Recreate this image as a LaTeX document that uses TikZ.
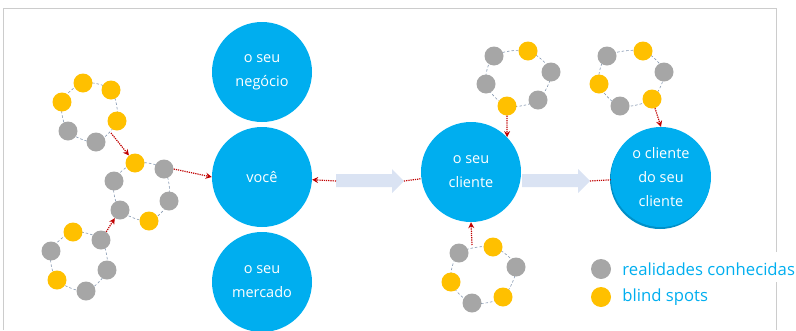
\documentclass[tikz,border=0pt]{standalone}
\usepackage{fontspec}
\setmainfont{Open Sans}
\usetikzlibrary{arrows.meta,positioning}
\definecolor{cblue}{HTML}{00AEEF}
\definecolor{cshadow}{HTML}{0090C8}
\definecolor{dotgray}{HTML}{A6A6A6}
\definecolor{dotyellow}{HTML}{FFC000}
\definecolor{ringline}{HTML}{8497B0}
\definecolor{linkred}{HTML}{C00000}
\definecolor{arrowfill}{HTML}{DAE3F3}
\definecolor{framegray}{HTML}{CCCCCC}

\begin{document}
\begin{tikzpicture}[x=1pt, y=-1pt,
    bigcirc/.style={circle, fill=cblue, text=white, minimum size=100pt, inner sep=0pt, align=center, font=\fontsize{14.5}{24}\selectfont},
    gdot/.style={circle, fill=dotgray, minimum size=19pt, inner sep=0pt},
    ydot/.style={circle, fill=dotyellow, minimum size=19pt, inner sep=0pt},
    ring/.style={draw=ringline, dash pattern=on 2.5pt off 2pt, line width=0.6pt},
    link/.style={draw=linkred, densely dotted, line width=1.2pt, -{Stealth[length=6pt,width=6pt]}},
    linkplain/.style={draw=linkred, densely dotted, line width=1.2pt},
    legtext/.style={text=cblue, inner sep=0pt, font=\fontsize{16.7}{20}\selectfont}]
    \useasboundingbox (0,0) rectangle (796,330);

    % frame, open where the legend sits
    \draw[framegray, line width=0.8pt] (776,252) -- (776,8) -- (3,8) -- (3,330);
    \draw[framegray, line width=0.8pt] (776,282) -- (776,330);

    % main circles
    \node[bigcirc] (negocio) at (262,72) {o seu\\neg\'ocio};
    \node[bigcirc] (voce) at (262,177) {voc\^e};
    \node[bigcirc] (mercado) at (262,282) {o seu\\mercado};
    \node[bigcirc] (cliente) at (471,172) {o seu\\cliente};
    \fill[cshadow] (660,179) circle (50);
    \node[bigcirc] (ccliente) at (661,177) {o cliente\\do seu\\cliente};

    % block arrows
    \coordinate (tailA) at (336,181);
    \coordinate (tipA) at (404,181);
    \fill[arrowfill] (336,174) -- (392,174) -- (392,169) -- (tipA) -- (392,193) -- (392,187) -- (336,187) -- cycle;
    \coordinate (tailB) at (522,181);
    \coordinate (tipB) at (590,181);
    \fill[arrowfill] (522,174) -- (578,174) -- (578,169) -- (tipB) -- (578,193) -- (578,187) -- (522,187) -- cycle;

    % cluster top left
    \draw[ring] plot[smooth cycle] coordinates {(83,83) (111,90) (117,121) (96,142) (68,131) (62,102)};
    \node[ydot] (a1) at (83,83) {};
    \node[ydot] (a2) at (111,90) {};
    \node[ydot] (a3) at (117,121) {};
    \node[gdot] (a4) at (96,142) {};
    \node[gdot] (a5) at (68,131) {};
    \node[ydot] (a6) at (62,102) {};
    \coordinate (aout) at (111,133);

    % cluster middle left
    \draw[ring] plot[smooth cycle] coordinates {(135,163) (164,169) (169,201) (149,221) (120,210) (114,181)};
    \node[ydot] (b1) at (135,163) {};
    \node[gdot] (b2) at (164,169) {};
    \node[gdot] (b3) at (169,201) {};
    \node[ydot] (b4) at (149,221) {};
    \node[gdot] (b5) at (120,210) {};
    \node[gdot] (b6) at (114,181) {};

    % cluster bottom left
    \draw[ring] plot[smooth cycle] coordinates {(73,232) (101,240) (107,270) (86,291) (57,280) (51,251)};
    \node[ydot] (c1) at (73,232) {};
    \node[gdot] (c2) at (101,240) {};
    \node[gdot] (c3) at (107,270) {};
    \node[gdot] (c4) at (86,291) {};
    \node[ydot] (c5) at (57,280) {};
    \node[gdot] (c6) at (51,251) {};

    % cluster above cliente
    \draw[ring] plot[smooth cycle] coordinates {(494,56) (528,51) (551,72) (538,100) (507,106) (486,84)};
    \node[gdot] (d1) at (494,56) {};
    \node[ydot] (d2) at (528,51) {};
    \node[gdot] (d3) at (551,72) {};
    \node[gdot] (d4) at (538,100) {};
    \node[ydot] (d5) at (507,106) {};
    \node[gdot] (d6) at (486,84) {};

    % cluster below cliente
    \draw[ring] plot[smooth cycle] coordinates {(459,253) (493,247) (516,267) (503,297) (472,303) (451,282)};
    \node[gdot] (e1) at (459,253) {};
    \node[ydot] (e2) at (493,247) {};
    \node[gdot] (e3) at (516,267) {};
    \node[ydot] (e4) at (503,297) {};
    \node[gdot] (e5) at (472,303) {};
    \node[ydot] (e6) at (451,282) {};
    \coordinate (etop) at (472,245);

    % cluster above cliente do cliente
    \draw[ring] plot[smooth cycle] coordinates {(607,56) (643,51) (664,72) (652,99) (620,106) (599,84)};
    \node[gdot] (f1) at (607,56) {};
    \node[ydot] (f2) at (643,51) {};
    \node[gdot] (f3) at (664,72) {};
    \node[ydot] (f4) at (652,99) {};
    \node[gdot] (f5) at (620,106) {};
    \node[ydot] (f6) at (599,84) {};

    % red links
    \draw[link] (aout) -- (b1);
    \draw[link] (c2) -- (b5);
    \draw[link] (b2.east) -- (voce.west);
    \draw[link] (tailA) -- (voce);
    \draw[linkplain] (tipA) -- (cliente);
    \draw[link] (d5) -- (cliente.44);
    \draw[link] (etop) -- (cliente.south);
    \draw[linkplain] (tipB) -- (ccliente);
    \draw[link] (f4) -- (ccliente.north);

    % legend
    \node[gdot, minimum size=20pt] (lgray) at (601,269) {};
    \node[ydot, minimum size=20pt] (lyellow) at (601,297) {};
    \node[legtext, right=11pt of lgray] {realidades conhecidas};
    \node[legtext, right=11pt of lyellow] {blind spots};
\end{tikzpicture}
\end{document}
